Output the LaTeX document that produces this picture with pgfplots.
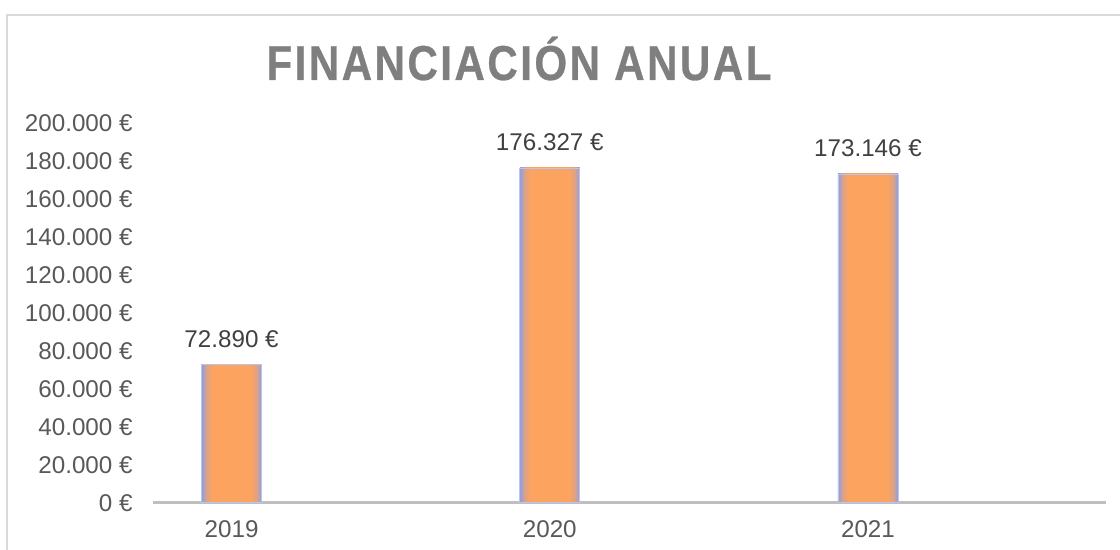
\documentclass[border=0pt]{standalone}
\usepackage{fontspec}
\setmainfont{Liberation Sans}
\newfontfamily\titlefont[FakeStretch=0.86, LetterSpace=5, BoldFeatures={FakeBold=0.6}]{Liberation Sans}
\usepackage{pgfplots}
\pgfplotsset{compat=1.18}

\definecolor{barc}{HTML}{FCA45F}
\definecolor{midc}{HTML}{DDA285}
\definecolor{glowc}{HTML}{8C9FE4}
\definecolor{tickc}{HTML}{595959}
\definecolor{labc}{HTML}{404040}
\definecolor{titc}{HTML}{7F7F7F}
\definecolor{axc}{HTML}{BFBFBF}
\definecolor{framec}{HTML}{D9D9D9}

\pgfdeclarehorizontalshading{barglow}{100bp}{color(0bp)=(glowc); color(25bp)=(glowc); color(29bp)=(midc); color(34bp)=(barc); color(66bp)=(barc); color(71bp)=(midc); color(75bp)=(glowc); color(100bp)=(glowc)}

\pgfplotsset{barstyle/.style={ybar, bar width=30pt, bar shift=0pt, draw=glowc!60!white, line width=0.4pt, shade, shading=barglow, mark=none}}

\begin{document}
\begin{tikzpicture}
% fixed page: 1120x550 px at 2 px per pt, axis box lower left at (0,0)
\useasboundingbox (-76.5pt,-23.65pt) rectangle (483.5pt,251.35pt);
\draw[framec, line width=1pt] (-72.75pt,-40pt) |- (520pt,243.85pt);

\begin{axis}[
  at={(0,0)}, anchor=south west,
  scale only axis,
  width=476.5pt, height=189.85pt,
  xmin=-0.247, xmax=2.748,
  ymin=0, ymax=200000,
  xtick={0,1,2}, xticklabels={2019,2020,2021},
  ytick={0,20000,...,200000},
  scaled y ticks=false,
  axis x line*=bottom,
  axis y line*=left,
  y axis line style={draw=none},
  x axis line style={axc, line width=1.5pt},
  xtick style={draw=none}, ytick style={draw=none},
  /pgf/number format/.cd, fixed, precision=0, 1000 sep={.}, assume math mode=true,
  /pgfplots/.cd,
  yticklabel={\pgfmathprintnumber{\tick}~€},
  tick label style={font=\fontsize{12.1}{14}\selectfont, text=tickc, inner sep=0pt},
  yticklabel style={anchor=east, xshift=-10pt},
  xticklabel style={anchor=north, yshift=-9pt},
  nodes near coords={\pgfmathprintnumber{\pgfplotspointmeta}~€},
  every node near coord/.append style={font=\fontsize{12.1}{14}\selectfont, text=labc, inner sep=0pt, anchor=south, yshift=8.2pt},
  clip=false,
]
% one plot per bar, so each bar gets its own shading box
\addplot[barstyle] coordinates {(0, 72890)};
\addplot[barstyle] coordinates {(1, 176327)};
\addplot[barstyle] coordinates {(2, 173146)};
\end{axis}

\node[anchor=base, text=titc, font=\titlefont\bfseries\fontsize{24.5}{29}\selectfont] at (183pt,211.35pt) {FINANCIACIÓN ANUAL};
\end{tikzpicture}
\end{document}
